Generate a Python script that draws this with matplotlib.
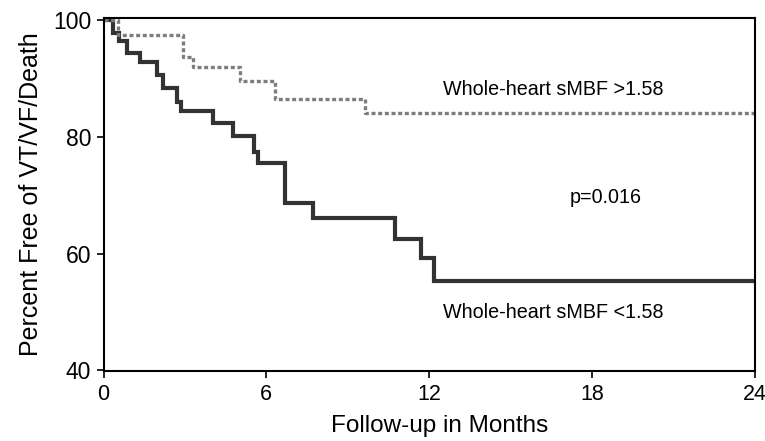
import matplotlib
matplotlib.use('Agg')
import matplotlib.pyplot as plt

# Kaplan-Meier steps (months, percent free)
low_t = [0, 0.34, 0.58, 0.88, 1.35, 1.96, 2.21, 2.72, 2.85, 4.05, 4.77, 5.55, 5.71, 6.70, 7.74, 10.76, 11.70, 12.20, 24]
low_s = [100, 97.8, 96.4, 94.4, 92.8, 90.7, 88.4, 86.1, 84.4, 82.4, 80.2, 77.5, 75.5, 68.7, 66.1, 62.5, 59.2, 55.4, 55.4]

high_t = [0, 0.55, 2.92, 3.31, 5.03, 6.32, 9.64, 24]
high_s = [100, 97.5, 93.7, 92.1, 89.7, 86.5, 84.2, 84.2]

xticks = [0, 6, 12, 18, 24]
yticks = [40, 60, 80, 100]

plt.rcParams['font.family'] = ['Liberation Sans', 'DejaVu Sans']

fig = plt.figure(figsize=(7.65, 4.41), dpi=100)
ax = fig.add_axes([0.1353, 0.1587, 0.8510, 0.8016])

ax.step(low_t, low_s, where='post', color='#333333', lw=3.0, solid_joinstyle='miter')
ax.step(high_t, high_s, where='post', color='#7d7d7d', lw=2.4, linestyle=(0, (1.2, 0.8)))

ax.set_xlim(0, 24)
ax.set_ylim(39.91, 100.51)
ax.set_xticks(xticks)
ax.set_yticks(yticks)
ax.tick_params(direction='out', length=5, width=1.2)
ax.tick_params(axis='x', labelsize=15.5, pad=4)
ax.tick_params(axis='y', labelsize=16.5, pad=4)
for sp in ax.spines.values():
    sp.set_linewidth(1.5)

ax.set_xlabel('Follow-up in Months', fontsize=17.5)
ax.xaxis.set_label_coords(0.517, -0.125)
ax.set_ylabel('Percent Free of VT/VF/Death', fontsize=18, labelpad=7)

ax.text(16.57, 88.1, 'Whole-heart sMBF >1.58', fontsize=14.2, ha='center', va='center')
ax.text(18.5, 69.6, 'p=0.016', fontsize=14.2, ha='center', va='center')
ax.text(16.57, 49.9, 'Whole-heart sMBF <1.58', fontsize=14.2, ha='center', va='center')

plt.savefig('out.png', dpi=100)
